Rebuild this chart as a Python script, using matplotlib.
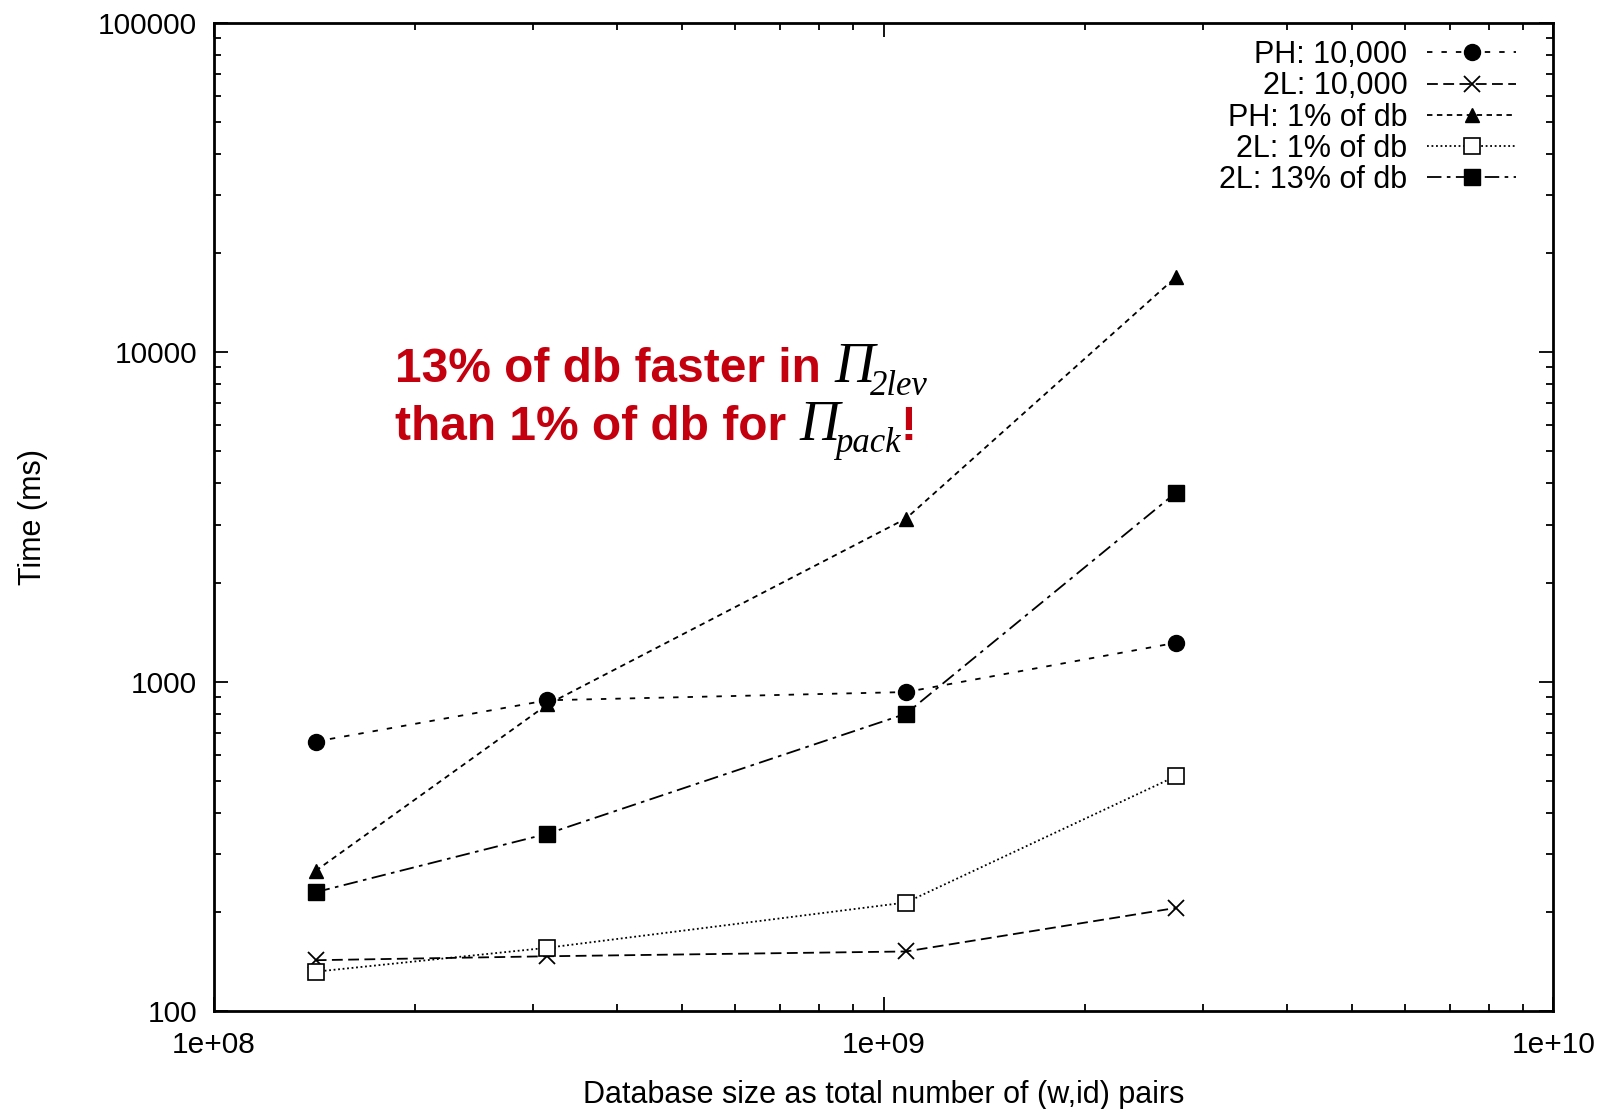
import matplotlib
matplotlib.use("Agg")
import matplotlib.pyplot as plt
from matplotlib.ticker import FixedLocator, LogLocator, NullFormatter

plt.rcParams["font.family"] = ["Liberation Sans", "DejaVu Sans"]

# database sizes (total number of (w,id) pairs)
db_size = [1.42e8, 3.15e8, 1.08e9, 2.73e9]

# query times in ms
ph_10000 = [659, 879, 931, 1313]
l2_10000 = [143, 147, 152, 206]
ph_1pct = [267, 854, 3128, 16880]
l2_1pct = [132, 156, 214, 517]
l2_13pct = [230, 346, 800, 3745]

series_labels = ["PH: 10,000", "2L: 10,000", "PH: 1% of db", "2L: 1% of db", "2L: 13% of db"]
y_ticks = [100, 1000, 10000, 100000]
x_ticks = [1e8, 1e9, 1e10]
x_tick_labels = ["1e+08", "1e+09", "1e+10"]

red = "#C4000F"

fig = plt.figure(figsize=(16.1, 11.09), dpi=100)
ax = fig.add_axes([0.1327, 0.088, 0.8322, 0.8916])

lw = 1.3
ax.plot(db_size, ph_10000, color="black", lw=lw, ls=(0, (3, 5)),
        marker="o", ms=11.5, label=series_labels[0])
ax.plot(db_size, l2_10000, color="black", lw=lw, ls=(0, (6, 3)),
        marker="x", ms=12, mew=1.3, label=series_labels[1])
ax.plot(db_size, ph_1pct, color="black", lw=lw, ls=(0, (3, 2.5)),
        marker="^", ms=10, label=series_labels[2])
ax.plot(db_size, l2_1pct, color="black", lw=lw, ls=(0, (1, 1.5)),
        marker="s", ms=11, mfc="white", mew=1.2, label=series_labels[3])
ax.plot(db_size, l2_13pct, color="black", lw=lw, ls=(0, (8, 3, 2, 3)),
        marker="s", ms=11, label=series_labels[4])

ax.set_xscale("log")
ax.set_yscale("log")
ax.set_xlim(1e8, 1e10)
ax.set_ylim(100, 100000)

ax.xaxis.set_major_locator(FixedLocator(x_ticks))
ax.set_xticklabels(x_tick_labels)
ax.xaxis.set_minor_locator(LogLocator(base=10, subs=range(2, 10)))
ax.xaxis.set_minor_formatter(NullFormatter())
ax.yaxis.set_major_locator(FixedLocator(y_ticks))
ax.set_yticklabels([str(v) for v in y_ticks])
ax.yaxis.set_minor_locator(LogLocator(base=10, subs=range(2, 10)))
ax.yaxis.set_minor_formatter(NullFormatter())

ax.tick_params(which="both", direction="in", top=True, right=True, width=1.3)
ax.tick_params(which="major", length=10, labelsize=21.5)
ax.tick_params(which="minor", length=5)
ax.tick_params(axis="x", which="major", pad=14)
ax.tick_params(axis="y", which="major", pad=12)
for sp in ax.spines.values():
    sp.set_linewidth(2)

ax.set_xlabel("Database size as total number of (w,id) pairs", fontsize=22, labelpad=15)
ax.set_ylabel("Time (ms)", fontsize=22, labelpad=36)

ax.legend(loc="upper right", frameon=False, markerfirst=False, fontsize=22,
          handlelength=2.9, numpoints=1, labelspacing=0.04, handletextpad=0.65,
          borderaxespad=0.3, bbox_to_anchor=(0.988, 1.004))

# annotation: red bold text mixed with black italic symbols
y1, y2 = 0.6365, 0.578
serif = dict(family="Liberation Serif", style="italic", color="black",
             va="baseline", annotation_clip=False)
t1 = ax.text(0.1354, y1, "13% of db faster in ", transform=ax.transAxes,
             color=red, fontsize=34.5, fontweight="bold", va="baseline")
pi1 = ax.annotate("Π", xy=(1, y1), xycoords=(t1, ax.transAxes), fontsize=40, **serif)
ax.annotate("2lev", xy=(1, y1), xycoords=(pi1, ax.transAxes), xytext=(-3, -9),
            textcoords="offset points", fontsize=25, **serif)
t2 = ax.text(0.1354, y2, "than 1% of db for ", transform=ax.transAxes,
             color=red, fontsize=34.5, fontweight="bold", va="baseline")
pi2 = ax.annotate("Π", xy=(1, y2), xycoords=(t2, ax.transAxes), fontsize=40, **serif)
sub2 = ax.annotate("pack", xy=(1, y2), xycoords=(pi2, ax.transAxes), xytext=(-3, -9),
                   textcoords="offset points", fontsize=25, **serif)
ax.annotate("!", xy=(1, y2), xycoords=(sub2, ax.transAxes), color=red, fontsize=34.5,
            fontweight="bold", va="baseline", annotation_clip=False)

fig.savefig("out.png", dpi=100)
